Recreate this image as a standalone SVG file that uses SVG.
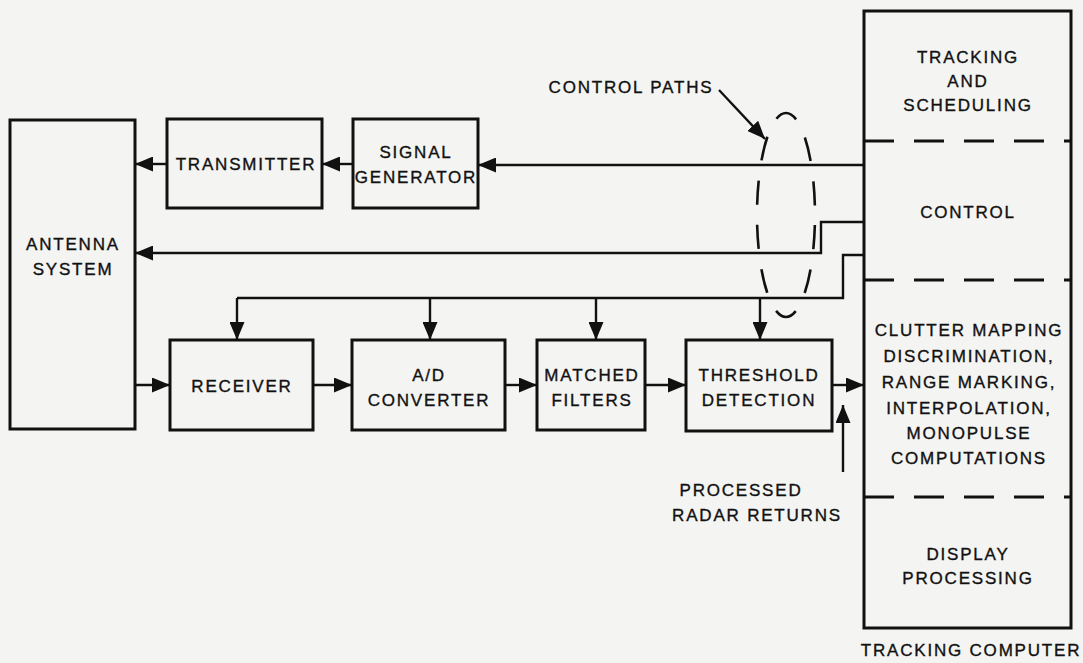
<svg xmlns="http://www.w3.org/2000/svg" width="1083" height="663" viewBox="0 0 1083 663">
  <defs>
    <marker id="arr" viewBox="0 0 18 15" refX="18" refY="7.5" markerWidth="18" markerHeight="15" markerUnits="userSpaceOnUse" orient="auto">
      <path d="M0,0 L18,7.5 L0,15 Z" fill="#111"/>
    </marker>
    <style>
      .box { fill: none; stroke: #111; stroke-width: 3; }
      .div { fill: none; stroke: #111; stroke-width: 3; stroke-dasharray: 30 20; }
      .wire { fill: none; stroke: #111; stroke-width: 2.4; }
      .lbl { font-family: "Liberation Sans", Arial, sans-serif; font-size: 17px; letter-spacing: 1.8px; fill: #111; stroke: #111; stroke-width: 0.35; text-anchor: middle; }
    </style>
  </defs>
  <rect width="1083" height="663" fill="#f4f4f2"/>

  <g id="antenna">
    <rect class="box" x="10" y="120" width="125" height="309"/>
    <text class="lbl" x="73" y="250">ANTENNA</text>
    <text class="lbl" x="73" y="275">SYSTEM</text>
  </g>
  <g id="transmitter">
    <rect class="box" x="167" y="119" width="155" height="89"/>
    <text class="lbl" x="246" y="170">TRANSMITTER</text>
  </g>
  <g id="signal-generator">
    <rect class="box" x="353" y="119" width="125" height="89"/>
    <text class="lbl" x="416" y="158">SIGNAL</text>
    <text class="lbl" x="416" y="183">GENERATOR</text>
  </g>
  <g id="receiver">
    <rect class="box" x="170" y="340" width="143" height="90"/>
    <text class="lbl" x="242" y="392">RECEIVER</text>
  </g>
  <g id="ad-converter">
    <rect class="box" x="352" y="340" width="153" height="90"/>
    <text class="lbl" x="429" y="381">A/D</text>
    <text class="lbl" x="429" y="406">CONVERTER</text>
  </g>
  <g id="matched-filters">
    <rect class="box" x="537" y="340" width="108" height="90"/>
    <text class="lbl" x="592" y="381">MATCHED</text>
    <text class="lbl" x="592" y="406">FILTERS</text>
  </g>
  <g id="threshold-detection">
    <rect class="box" x="686" y="340" width="146" height="91"/>
    <text class="lbl" x="759" y="381">THRESHOLD</text>
    <text class="lbl" x="759" y="406">DETECTION</text>
  </g>
  <g id="tracking-computer">
    <rect class="box" x="864" y="11" width="207" height="617"/>
    <line class="div" x1="864" y1="141" x2="1071" y2="141"/>
    <line class="div" x1="864" y1="280" x2="1071" y2="280"/>
    <line class="div" x1="864" y1="497" x2="1071" y2="497"/>
    <text class="lbl" x="968" y="63">TRACKING</text>
    <text class="lbl" x="968" y="87">AND</text>
    <text class="lbl" x="968" y="111">SCHEDULING</text>
    <text class="lbl" x="968" y="218">CONTROL</text>
    <text class="lbl" x="969" y="336">CLUTTER MAPPING</text>
    <text class="lbl" x="969" y="362">DISCRIMINATION,</text>
    <text class="lbl" x="969" y="388">RANGE MARKING,</text>
    <text class="lbl" x="969" y="414">INTERPOLATION,</text>
    <text class="lbl" x="969" y="439">MONOPULSE</text>
    <text class="lbl" x="969" y="464">COMPUTATIONS</text>
    <text class="lbl" x="968" y="560">DISPLAY</text>
    <text class="lbl" x="968" y="584">PROCESSING</text>
    <text class="lbl" x="971" y="656">TRACKING COMPUTER</text>
  </g>

  <g id="connectors">
    <!-- transmit chain -->
    <line class="wire" x1="353" y1="164" x2="322" y2="164" marker-end="url(#arr)"/>
    <line class="wire" x1="167" y1="164" x2="135" y2="164" marker-end="url(#arr)"/>
    <!-- control paths out of the tracking computer -->
    <line class="wire" x1="864" y1="165" x2="478" y2="165" marker-end="url(#arr)"/>
    <polyline class="wire" points="864,222 821,222 821,253 135,253" marker-end="url(#arr)"/>
    <polyline class="wire" points="864,255 843,255 843,298 237,298"/>
    <line class="wire" x1="237" y1="298" x2="237" y2="340" marker-end="url(#arr)"/>
    <line class="wire" x1="430" y1="298" x2="430" y2="340" marker-end="url(#arr)"/>
    <line class="wire" x1="596" y1="298" x2="596" y2="340" marker-end="url(#arr)"/>
    <line class="wire" x1="760" y1="298" x2="760" y2="340" marker-end="url(#arr)"/>
    <!-- receive chain -->
    <line class="wire" x1="135" y1="385" x2="170" y2="385" marker-end="url(#arr)"/>
    <line class="wire" x1="313" y1="385" x2="352" y2="385" marker-end="url(#arr)"/>
    <line class="wire" x1="505" y1="385" x2="537" y2="385" marker-end="url(#arr)"/>
    <line class="wire" x1="645" y1="385" x2="686" y2="385" marker-end="url(#arr)"/>
    <line class="wire" x1="832" y1="385" x2="864" y2="385" marker-end="url(#arr)"/>
    <!-- callouts -->
    <ellipse cx="786" cy="215" rx="29" ry="102" fill="none" stroke="#111" stroke-width="2.6" stroke-dasharray="24 20.4" stroke-dashoffset="34.2"/>
    <line class="wire" x1="719" y1="90" x2="765" y2="139" marker-end="url(#arr)"/>
    <line class="wire" x1="843" y1="472" x2="843" y2="405" marker-end="url(#arr)"/>
  </g>

  <g id="annotations">
    <text class="lbl" x="631" y="93">CONTROL PATHS</text>
    <text class="lbl" x="741" y="496">PROCESSED</text>
    <text class="lbl" x="757" y="521">RADAR RETURNS</text>
  </g>
</svg>
